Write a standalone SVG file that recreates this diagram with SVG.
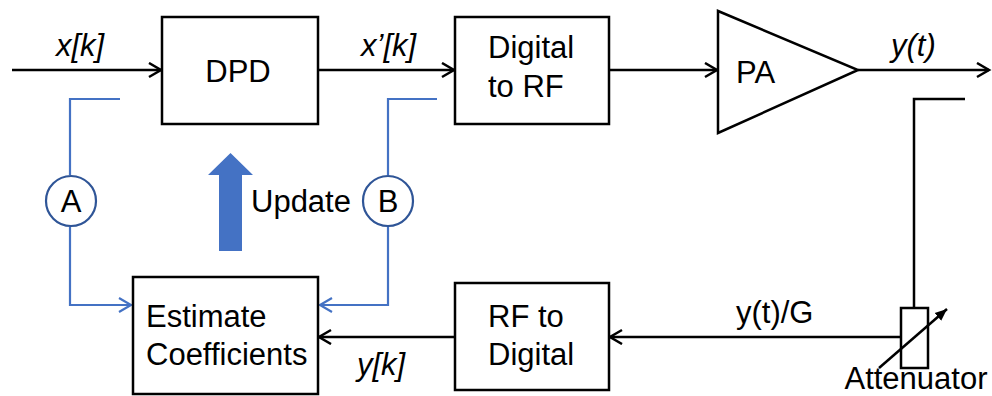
<svg xmlns="http://www.w3.org/2000/svg" width="992" height="396" viewBox="0 0 992 396">
<style>
.box{fill:#fff;stroke:#000;stroke-width:2.5}
.t{font-family:"Liberation Sans",Arial,sans-serif;font-size:31px;fill:#000}
.it{font-style:italic}
.c{text-anchor:middle}
.ln{fill:none;stroke:#000;stroke-width:2.5}
.bl{fill:none;stroke:#4472C4;stroke-width:2.2}
</style>
<defs>
<marker id="ak" markerUnits="userSpaceOnUse" markerWidth="16" markerHeight="18" refX="13" refY="8" orient="auto">
<path d="M1,1 L13,8 L1,15" fill="none" stroke="#000" stroke-width="2.5"/>
</marker>
<marker id="ab" markerUnits="userSpaceOnUse" markerWidth="16" markerHeight="18" refX="13" refY="8" orient="auto">
<path d="M1,1 L13,8 L1,15" fill="none" stroke="#4472C4" stroke-width="2.2"/>
</marker>
<marker id="af" markerUnits="userSpaceOnUse" markerWidth="14" markerHeight="12" refX="12" refY="6" orient="auto">
<path d="M0,1 L12,6 L0,11 Z" fill="#000"/>
</marker>
</defs>
<g id="connectors">
<line class="ln" x1="12" y1="70" x2="161" y2="70" marker-end="url(#ak)"/>
<line class="ln" x1="318" y1="70" x2="454" y2="70" marker-end="url(#ak)"/>
<line class="ln" x1="609" y1="70" x2="717" y2="70" marker-end="url(#ak)"/>
<line class="ln" x1="858" y1="70" x2="989" y2="70" marker-end="url(#ak)"/>
<polyline class="ln" points="965,99 914,99 914,308"/>
<line class="ln" x1="901" y1="337" x2="610" y2="337" marker-end="url(#ak)"/>
<line class="ln" x1="455" y1="337" x2="319" y2="337" marker-end="url(#ak)"/>
<polyline class="bl" points="120,99 70,99 70,175"/>
<polyline class="bl" points="70,227 70,305 131,305" marker-end="url(#ab)"/>
<polyline class="bl" points="437,99 388,99 388,175"/>
<polyline class="bl" points="388,227 388,305 320,305" marker-end="url(#ab)"/>
<path d="M219,251 L219,175 L208,175 L230.5,153 L253,175 L242,175 L242,251 Z" fill="#4472C4"/>
</g>
<g id="dpd">
<rect class="box" x="162" y="17" width="156" height="107"/>
<text class="t c" x="238" y="82">DPD</text>
</g>
<g id="dig2rf">
<rect class="box" x="455" y="17" width="154" height="107"/>
<text class="t" x="488" y="58">Digital</text>
<text class="t" x="488" y="97">to RF</text>
</g>
<g id="pa">
<polygon class="box" points="718,11 718,133 858,70"/>
<text class="t" x="736" y="83">PA</text>
</g>
<g id="rf2dig">
<rect class="box" x="455" y="283" width="154" height="107"/>
<text class="t" x="488" y="327">RF to</text>
<text class="t" x="488" y="365">Digital</text>
</g>
<g id="estimate">
<rect class="box" x="133" y="277" width="185" height="117"/>
<text class="t" x="146" y="327">Estimate</text>
<text class="t" x="146" y="365">Coefficients</text>
</g>
<g id="attenuator">
<rect class="box" x="901" y="308" width="27" height="60"/>
<line x1="879" y1="368" x2="947" y2="309" stroke="#000" stroke-width="2.5" marker-end="url(#af)"/>
<text class="t c" x="916" y="389">Attenuator</text>
</g>
<g id="circleA">
<circle cx="71" cy="201" r="25" fill="#fff" stroke="#2F5597" stroke-width="2.2"/>
<text class="t c" x="71" y="212">A</text>
</g>
<g id="circleB">
<circle cx="388" cy="201" r="25" fill="#fff" stroke="#2F5597" stroke-width="2.2"/>
<text class="t c" x="388" y="212">B</text>
</g>
<g id="labels">
<text class="t it" x="56" y="56">x[k]</text>
<text class="t it" x="361" y="56">x’[k]</text>
<text class="t it" x="891" y="56">y(t)</text>
<text class="t" x="736" y="323">y(t)/G</text>
<text class="t it" x="357" y="375">y[k]</text>
<text class="t" x="251" y="212">Update</text>
</g>
</svg>
